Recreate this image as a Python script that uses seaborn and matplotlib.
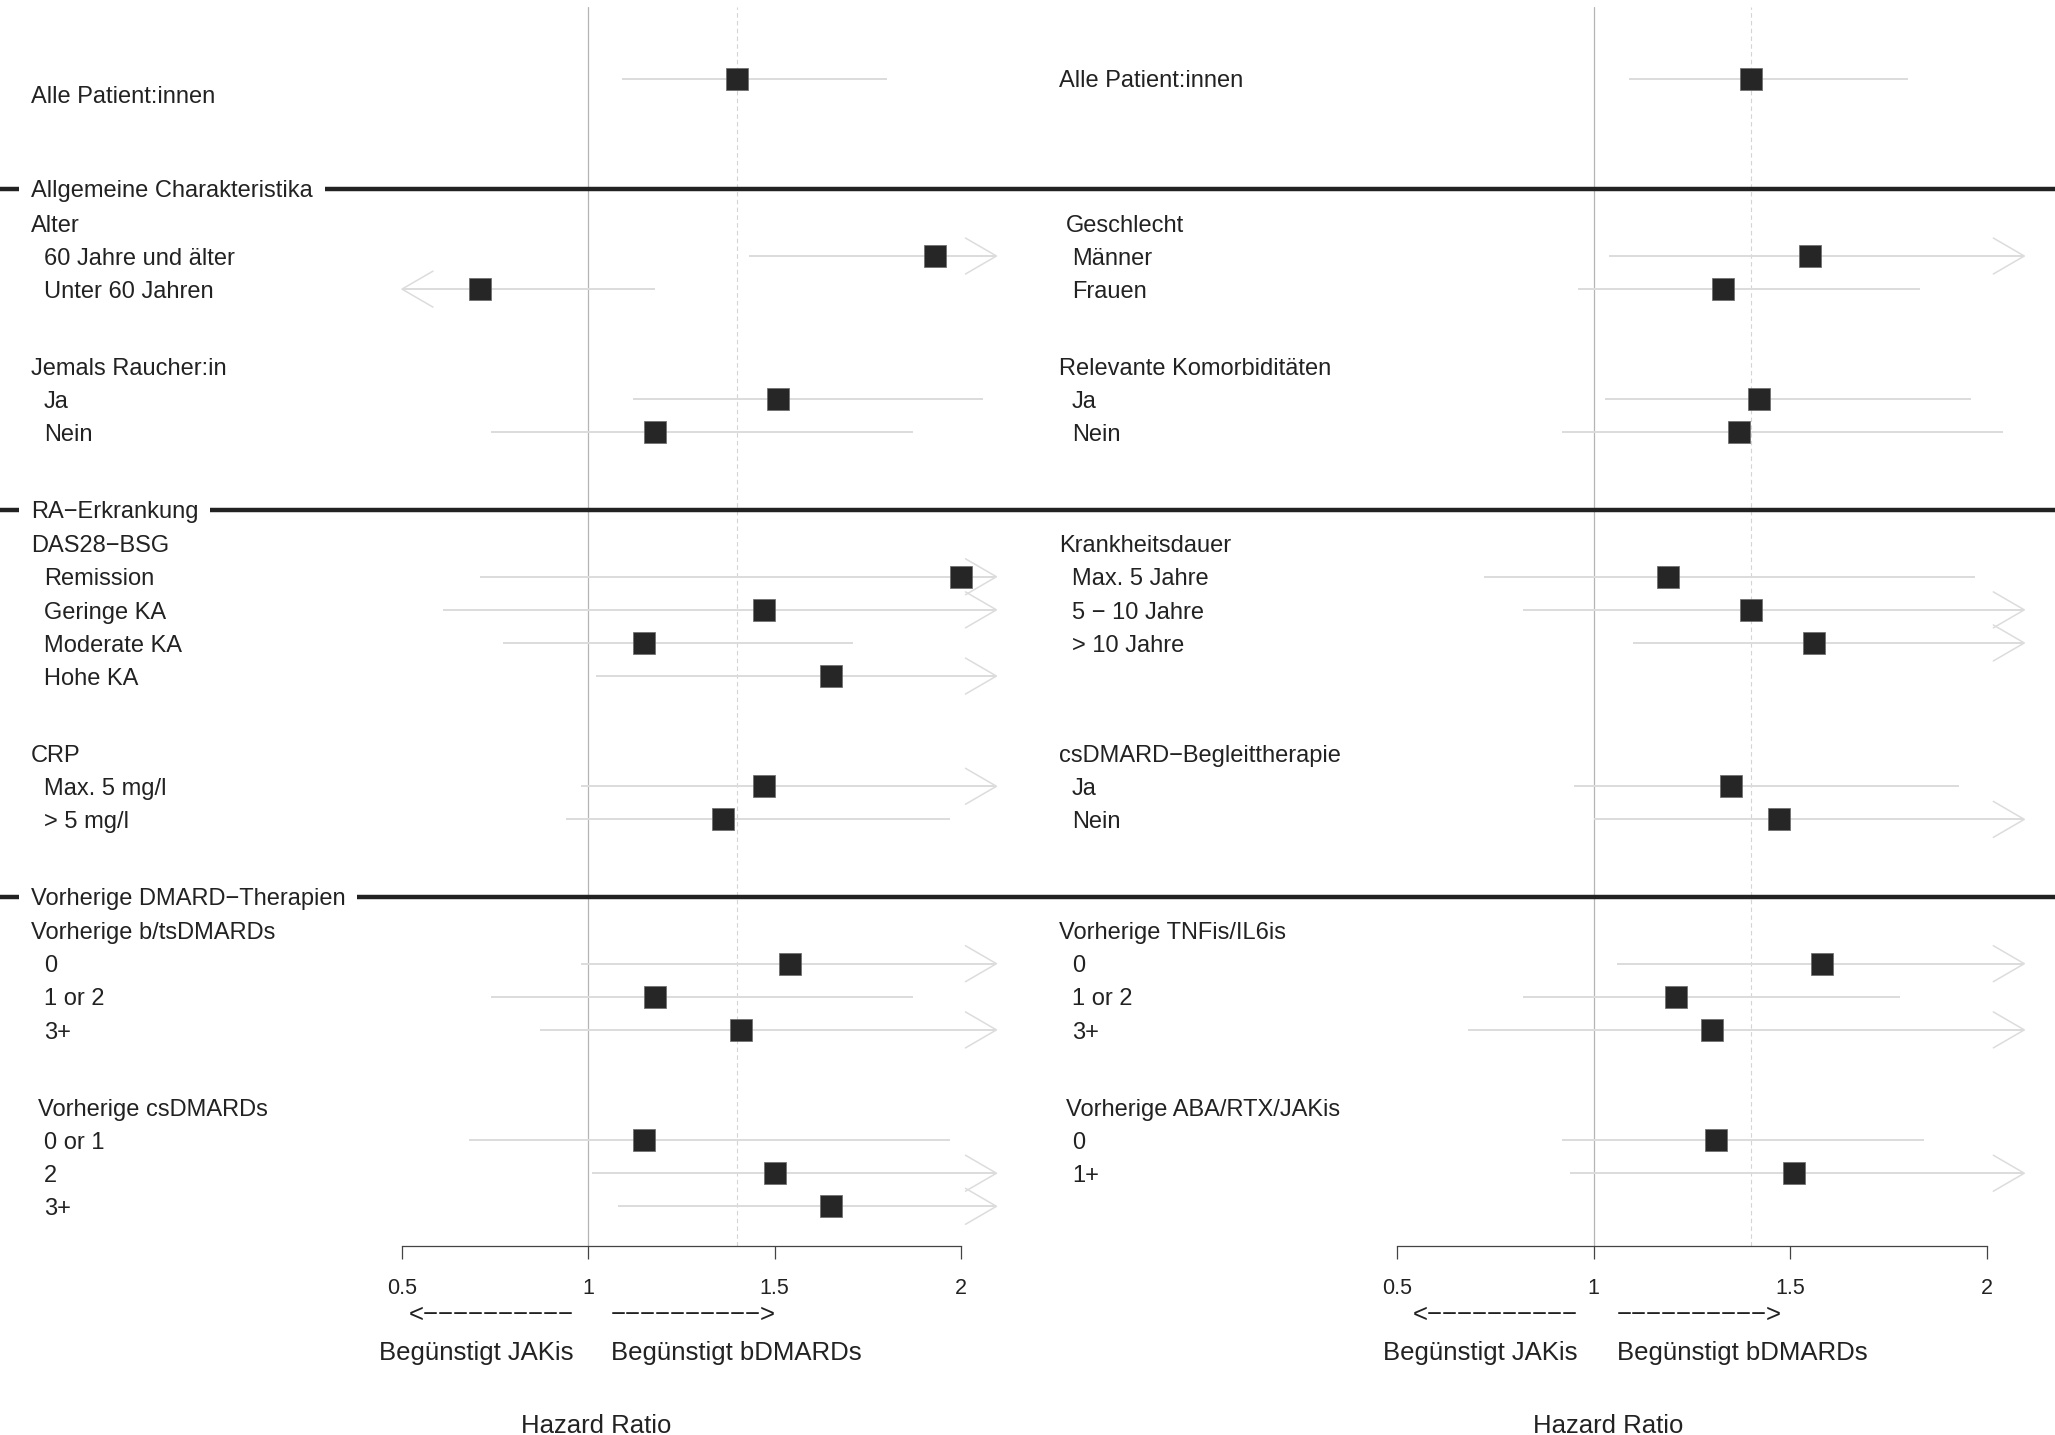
import numpy as np
import pandas as pd
import matplotlib
matplotlib.use("Agg")
import matplotlib.pyplot as plt
import seaborn as sns
from matplotlib.transforms import blended_transform_factory
from matplotlib.lines import Line2D

sns.set_theme(style="white")
plt.rcParams['font.family'] = ['Liberation Sans', 'DejaVu Sans']
plt.rcParams['text.color'] = '#222222'

# ---------------- data ----------------
overall_label = "Alle Patient:innen"
section_titles = ["Allgemeine Charakteristika", "RA\u2212Erkrankung", "Vorherige DMARD\u2212Therapien"]

left_overall = (1.40, 1.09, 1.80)
right_overall = (1.40, 1.09, 1.80)

left_headers = ["Alter", "Jemals Raucher:in", "DAS28\u2212BSG", "CRP",
                "Vorherige b/tsDMARDs", "Vorherige csDMARDs"]
left_items = [["60 Jahre und älter", "Unter 60 Jahren"],
              ["Ja", "Nein"],
              ["Remission", "Geringe KA", "Moderate KA", "Hohe KA"],
              ["Max. 5 mg/l", "> 5 mg/l"],
              ["0", "1 or 2", "3+"],
              ["0 or 1", "2", "3+"]]
left_hr = [[1.93, 0.71], [1.51, 1.18], [2.00, 1.47, 1.15, 1.65],
           [1.47, 1.36], [1.54, 1.18, 1.41], [1.15, 1.50, 1.65]]
left_lo = [[1.43, 0.42], [1.12, 0.74], [0.71, 0.61, 0.77, 1.02],
           [0.98, 0.94], [0.98, 0.74, 0.87], [0.68, 1.01, 1.08]]
left_hi = [[2.60, 1.18], [2.06, 1.87], [5.60, 3.50, 1.71, 2.70],
           [2.20, 1.97], [2.40, 1.87, 2.30], [1.97, 2.20, 2.50]]

right_headers = ["Geschlecht", "Relevante Komorbiditäten", "Krankheitsdauer",
                 "csDMARD\u2212Begleittherapie", "Vorherige TNFis/IL6is",
                 "Vorherige ABA/RTX/JAKis"]
right_items = [["Männer", "Frauen"],
               ["Ja", "Nein"],
               ["Max. 5 Jahre", "5 \u2212 10 Jahre", "> 10 Jahre"],
               ["Ja", "Nein"],
               ["0", "1 or 2", "3+"],
               ["0", "1+"]]
right_hr = [[1.55, 1.33], [1.42, 1.37], [1.19, 1.40, 1.56],
            [1.35, 1.47], [1.58, 1.21, 1.30], [1.31, 1.51]]
right_lo = [[1.04, 0.96], [1.03, 0.92], [0.72, 0.82, 1.10],
            [0.95, 1.00], [1.06, 0.82, 0.68], [0.92, 0.94]]
right_hi = [[2.30, 1.83], [1.96, 2.04], [1.97, 2.40, 2.20],
            [1.93, 2.15], [2.35, 1.78, 2.50], [1.84, 2.40]]

xticks = [0.5, 1, 1.5, 2]
xtick_labels = ["0.5", "1", "1.5", "2"]
favour_left = "Begünstigt JAKis"
favour_right = "Begünstigt bDMARDs"
arrow_left = "<" + "\u2212" * 10
arrow_right = "\u2212" * 10 + ">"
xlabel = "Hazard Ratio"

# ---------------- layout ----------------
W, H = 2055, 1435
FIRST_GAP, ROW_GAP, HEAD_GAP = 3.33, 2.33, 1.03
ROW_PX = 33.1
OVERALL_PX = 78.6
TEXT_DY = 0.08   # vertical text centring offset (rows)
section_slots = [[0, 1], [2, 3], [4, 5]]
slot_size = [max(len(a), len(b)) for a, b in zip(left_items, right_items)]

section_r, header_r = [], []
r = 0.0
for s, slots in enumerate(section_slots):
    r += FIRST_GAP if s == 0 else ROW_GAP
    section_r.append(r)
    r += HEAD_GAP
    for k, slot in enumerate(slots):
        if k > 0:
            r += ROW_GAP
        header_r.append(r)
        r += slot_size[slot]

ax_top_px, ax_bot_px = 6.5, 1246.0
y_top = -(OVERALL_PX - ax_top_px) / ROW_PX
y_bottom = (ax_bot_px - OVERALL_PX) / ROW_PX

fig = plt.figure(figsize=(W / 100, H / 100), dpi=100)

def fx(px):
    return px / W

def fy(px):
    return 1 - px / H

panels = [
    dict(x0=402, x1=1000, ppu=372.7, head_x=31, item_x=44,
         head_indent=[0, 0, 0, 0, 0, 6.5], overall_dy=0.48,
         overall=left_overall, headers=left_headers, items=left_items,
         hr=left_hr, lo=left_lo, hi=left_hi, xlab=1.02),
    dict(x0=1397, x1=2035, ppu=393.3, head_x=1059, item_x=1072,
         head_indent=[6.5, 0, 0, 0, 0, 6.5], overall_dy=0.0,
         overall=right_overall, headers=right_headers, items=right_items,
         hr=right_hr, lo=right_lo, hi=right_hi, xlab=1.036),
]

CI_COL = '#dcdcdc'
BOX_COL = '#262626'
clip_hi = 2.095
clip_lo = 0.5

axes = []
for p in panels:
    ax = fig.add_axes([fx(p['x0']), fy(ax_bot_px), fx(p['x1'] - p['x0']),
                       (ax_bot_px - ax_top_px) / H])
    ax.set_facecolor('none')
    xmax = 0.5 + (p['x1'] - p['x0']) / p['ppu']
    ax.set_xlim(0.5, xmax)
    ax.set_ylim(y_bottom, y_top)

    # build rows
    rows = [dict(label=overall_label, kind='overall', r=0.0,
                 hr=p['overall'][0], lo=p['overall'][1], hi=p['overall'][2])]
    for g, (hdr, its) in enumerate(zip(p['headers'], p['items'])):
        rows.append(dict(label=hdr, kind='header', r=header_r[g],
                         hr=np.nan, lo=np.nan, hi=np.nan, g=g))
        for i, it in enumerate(its):
            rows.append(dict(label=it, kind='item', r=header_r[g] + 1 + i,
                             hr=p['hr'][g][i], lo=p['lo'][g][i], hi=p['hi'][g][i]))
    df = pd.DataFrame(rows)
    est = df.dropna(subset=['hr'])

    # reference lines
    ax.axvline(1, color='#b5b5b5', lw=0.9, zorder=1)
    ax.axvline(p['overall'][0], color='#d4d4d4', lw=0.8, ls=(0, (4, 3)), zorder=1)

    # CIs
    lo_c = est['lo'].clip(lower=clip_lo)
    hi_c = est['hi'].clip(upper=clip_hi)
    ax.hlines(est['r'], lo_c, hi_c, color=CI_COL, lw=1.4, zorder=2)
    dx = 31 / p['ppu']
    dy = 18 / ROW_PX
    for _, row in est.iterrows():
        if row['hi'] > clip_hi:
            ax.plot([clip_hi - dx, clip_hi, clip_hi - dx],
                    [row['r'] - dy, row['r'], row['r'] + dy],
                    color=CI_COL, lw=1.1, zorder=2, clip_on=False)
        if row['lo'] < clip_lo:
            ax.plot([clip_lo + dx, clip_lo, clip_lo + dx],
                    [row['r'] - dy, row['r'], row['r'] + dy],
                    color=CI_COL, lw=1.1, zorder=2, clip_on=False)

    sns.scatterplot(data=est, x='hr', y='r', marker='s', s=250, color=BOX_COL,
                    edgecolor='#6a6a6a', linewidth=0.5, zorder=3, ax=ax,
                    legend=False, clip_on=False)

    # axes styling
    for side in ['top', 'right', 'left']:
        ax.spines[side].set_visible(False)
    ax.spines['bottom'].set_bounds(0.5, 2)
    ax.spines['bottom'].set_color('#444444')
    ax.spines['bottom'].set_linewidth(0.9)
    ax.set_xticks(xticks)
    ax.set_xticklabels(xtick_labels)
    ax.set_yticks([])
    ax.tick_params(axis='x', direction='out', length=9, width=0.9, color='#444444',
                   pad=14, labelsize=15.5, labelcolor='#222222', bottom=True)
    ax.set_xlabel('')
    ax.set_ylabel('')

    # labels
    tr = blended_transform_factory(fig.transFigure, ax.transData)
    for _, row in df.iterrows():
        if row['kind'] == 'overall':
            x = p['head_x']
            yy = row['r'] + p['overall_dy']
        elif row['kind'] == 'header':
            x = p['head_x'] + p['head_indent'][int(row['g'])]
            yy = row['r']
        else:
            x = p['item_x']
            yy = row['r']
        fig.text(fx(x), yy + TEXT_DY, row['label'], transform=tr, ha='left',
                 va='center', fontsize=17, color='#222222')

    # bottom annotations
    trb = blended_transform_factory(ax.transData, fig.transFigure)
    ax.text(0.96, fy(1315), arrow_left, transform=trb, ha='right', va='center',
            fontsize=18.5, color='#222222')
    ax.text(1.06, fy(1315), arrow_right, transform=trb, ha='left', va='center',
            fontsize=18.5, color='#222222')
    ax.text(0.96, fy(1353), favour_left, transform=trb, ha='right', va='center',
            fontsize=18.5, color='#222222')
    ax.text(1.06, fy(1353), favour_right, transform=trb, ha='left', va='center',
            fontsize=18.5, color='#222222')
    ax.text(p['xlab'], fy(1426), xlabel, transform=trb, ha='center', va='center',
            fontsize=18.5, color='#222222')
    axes.append(ax)

# section separators
trs = blended_transform_factory(fig.transFigure, axes[0].transData)
for title, rs in zip(section_titles, section_r):
    fig.add_artist(Line2D([0, 1], [rs, rs], transform=trs, color='#222222',
                          lw=3.2, zorder=2))
    fig.text(fx(31), rs + TEXT_DY, title, transform=trs, ha='left', va='center',
             fontsize=17, color='#222222', zorder=3,
             bbox=dict(boxstyle='square,pad=0.5', fc='white', ec='none'))

fig.savefig('out.png', dpi=100, facecolor='white')
